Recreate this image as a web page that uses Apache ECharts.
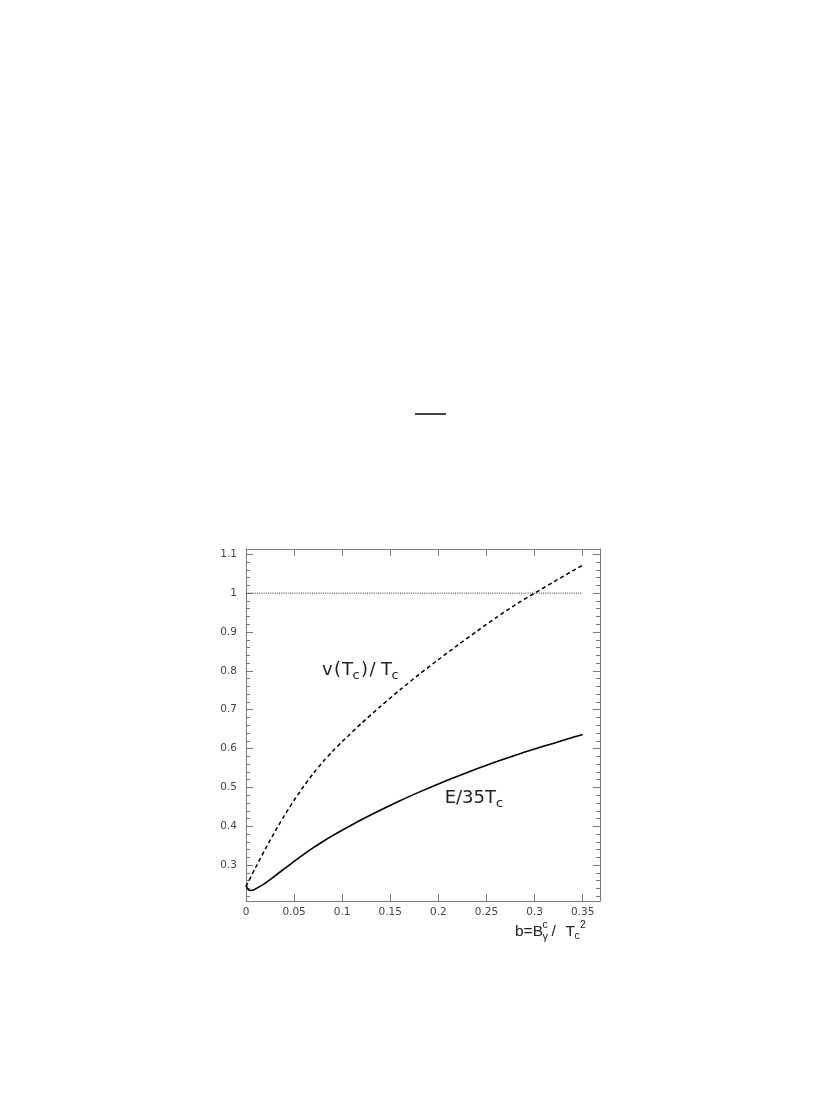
<!DOCTYPE html>
<html><head><meta charset="utf-8">
<script src="https://cdn.jsdelivr.net/npm/echarts@6/dist/echarts.min.js"></script>
<style>html,body{margin:0;padding:0;background:#fff}#c{width:816px;height:1113px}</style>
</head><body><div id="c"></div>
<script>
// ---- data ----
const xTicks = [0, 0.05, 0.1, 0.15, 0.2, 0.25, 0.3, 0.35];
const yTicks = [0.3, 0.4, 0.5, 0.6, 0.7, 0.8, 0.9, 1, 1.1];
const yMinor = [0.22, 0.24, 0.26, 0.28, 0.32, 0.34, 0.36, 0.38, 0.42, 0.44, 0.46, 0.48,
  0.52, 0.54, 0.56, 0.58, 0.62, 0.64, 0.66, 0.68, 0.72, 0.74, 0.76, 0.78,
  0.82, 0.84, 0.86, 0.88, 0.92, 0.94, 0.96, 0.98, 1.02, 1.04, 1.06, 1.08];
const dashedB = [0, 0.01, 0.02, 0.03, 0.04, 0.05, 0.06, 0.07, 0.08, 0.09, 0.1, 0.12, 0.14, 0.16, 0.18, 0.2, 0.22, 0.24, 0.26, 0.28, 0.3, 0.32, 0.34, 0.35];
const dashedV = [0.245, 0.294, 0.341, 0.386, 0.428, 0.467, 0.503, 0.536, 0.566, 0.593, 0.618, 0.665, 0.709, 0.751, 0.791, 0.829, 0.866, 0.902, 0.937, 0.970, 1.0, 1.029, 1.058, 1.072];
const solidB = [0, 0.0015, 0.003, 0.005, 0.0075, 0.01, 0.015, 0.02, 0.03, 0.04, 0.05, 0.06, 0.07, 0.08, 0.09, 0.1, 0.12, 0.14, 0.16, 0.18, 0.2, 0.22, 0.24, 0.26, 0.28, 0.3, 0.32, 0.34, 0.35];
const solidE = [0.249, 0.240, 0.236, 0.235, 0.236, 0.239, 0.246, 0.254, 0.272, 0.291, 0.310, 0.328, 0.345, 0.361, 0.376, 0.390, 0.417, 0.442, 0.466, 0.488, 0.509, 0.529, 0.548, 0.566, 0.583, 0.599, 0.614, 0.629, 0.636];
const refB = [0, 0.35];
const refV = [1, 1];

const zip = (a, b) => a.map((v, i) => [v, b[i]]);

const axisCol = '#7a7a7a';
const labelCol = '#444';
const tickFont = { fontFamily: 'DejaVu Sans', fontSize: 10.5, color: labelCol };

function xAx(pos, showLabel) {
  return {
    type: 'value', position: pos, min: 0, max: 0.368,
    axisLine: { show: true, onZero: false, lineStyle: { color: axisCol, width: 1 } },
    axisTick: { show: true, inside: true, length: 7, customValues: xTicks, lineStyle: { color: axisCol } },
    axisLabel: Object.assign({ show: showLabel, margin: 6, customValues: xTicks }, tickFont),
    splitLine: { show: false }
  };
}
function yAx(pos, vals, len, showLine, showLabel) {
  return {
    type: 'value', position: pos, min: 0.2078, max: 1.1136,
    axisLine: { show: showLine, onZero: false, lineStyle: { color: axisCol, width: 1 } },
    axisTick: { show: true, inside: true, length: len, customValues: vals, lineStyle: { color: axisCol } },
    axisLabel: Object.assign({ show: showLabel, margin: 9, customValues: vals }, tickFont),
    splitLine: { show: false }
  };
}

const ctxFont = 'DejaVu Sans';
function t(s, x, y, size, fam, align) {
  return {
    type: 'text', x: x, y: y, silent: true,
    style: {
      text: s, font: size + 'px "' + (fam || ctxFont) + '"', fill: '#222',
      align: align || 'left', textAlign: align || 'left',
      verticalAlign: 'middle', textVerticalAlign: 'middle'
    }
  };
}

const graphics = [
  { type: 'line', shape: { x1: 415, y1: 414, x2: 446, y2: 414 }, style: { stroke: '#000', lineWidth: 1.5 } },
  // v(Tc)/Tc
  t('v', 322, 670, 18), t('(', 334, 670, 18), t('T', 342, 670, 18), t('c', 352.5, 675.5, 13),
  t(')', 361, 670, 18), t('/', 369.5, 670, 18), t('T', 381, 670, 18), t('c', 391.5, 675.5, 13),
  // E/35Tc
  t('E/35', 485, 798, 18, ctxFont, 'right'), t('T', 485, 798, 18), t('c', 496, 803.5, 13),
  // axis title b=B^c_γ/ T_c^2
  t('b=B', 515, 931.5, 15.5, 'Liberation Sans'),
  t('c', 542.5, 925.5, 10.5, 'Liberation Sans'),
  t('γ', 542.5, 937, 11, 'Liberation Sans'),
  t('/', 551.5, 931.5, 15.5, 'Liberation Sans'),
  t('T', 565.5, 931.5, 15.5, 'Liberation Sans'),
  t('c', 574.5, 936, 10.5, 'Liberation Sans'),
  t('2', 580, 925.5, 10.5, 'Liberation Sans')
];

const chart = echarts.init(document.getElementById('c'), null, { renderer: 'canvas' });
chart.setOption({
  animation: false,
  backgroundColor: '#fff',
  grid: { left: 246, top: 549, width: 354, height: 352, containLabel: false },
  xAxis: [xAx('bottom', true), xAx('top', false)],
  yAxis: [
    yAx('left', yTicks, 7, true, true),
    yAx('left', yMinor, 4, false, false),
    yAx('right', yTicks, 7, true, false),
    yAx('right', yMinor, 4, false, false)
  ],
  series: [
    { type: 'line', data: zip(refB, refV), showSymbol: false, lineStyle: { color: '#333', width: 1, type: [1, 1.2] } },
    { type: 'line', data: zip(dashedB, dashedV), showSymbol: false, smooth: 0.25, lineStyle: { color: '#000', width: 1.5, type: [4, 3] } },
    { type: 'line', data: zip(solidB, solidE), showSymbol: false, smooth: 0.25, lineStyle: { color: '#000', width: 1.6 } }
  ],
  graphic: graphics
});
</script></body></html>
